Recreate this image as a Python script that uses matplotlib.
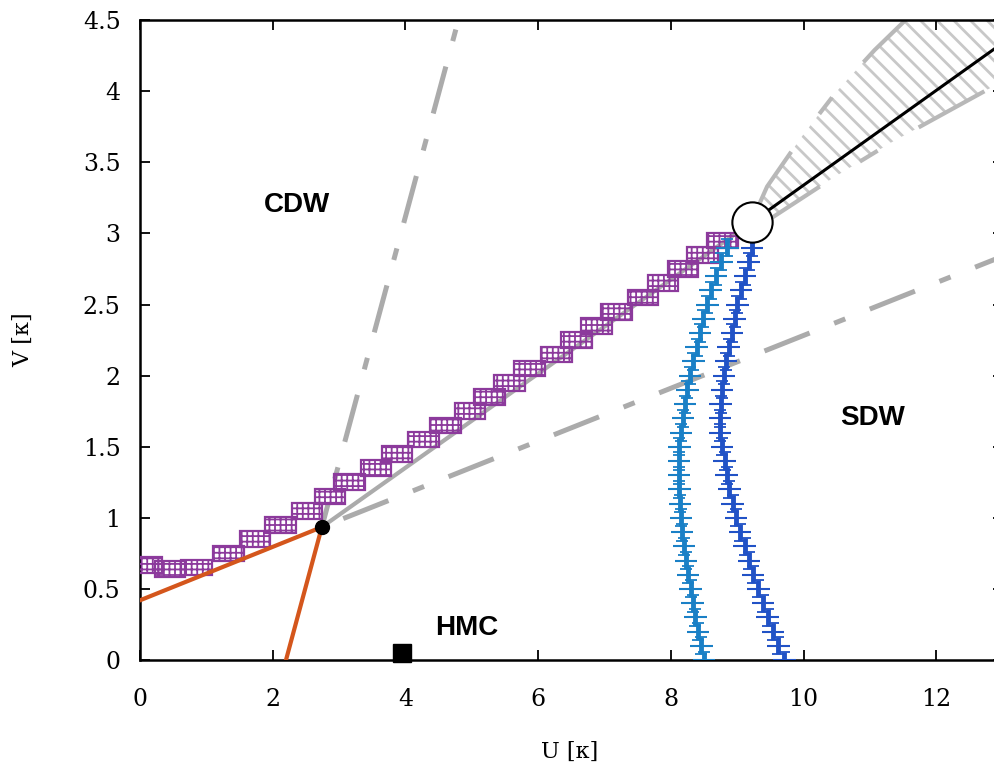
import numpy as np
import matplotlib
matplotlib.use("Agg")
import matplotlib.pyplot as plt
from matplotlib.patches import Rectangle, Polygon

# --- Data ---
# purple boxes (CDW boundary), centre and half-widths
cdw_u = [0.10, 0.45, 0.85, 1.33, 1.73, 2.12, 2.52, 2.86, 3.16, 3.56, 3.87, 4.27, 4.60,
         4.97, 5.27, 5.57, 5.87, 6.28, 6.58, 6.88, 7.18, 7.58, 7.88, 8.18, 8.48, 8.78]
cdw_v = [0.67, 0.64, 0.65, 0.75, 0.85, 0.95, 1.05, 1.15, 1.25, 1.35, 1.45, 1.55, 1.65,
         1.75, 1.85, 1.95, 2.05, 2.15, 2.25, 2.35, 2.45, 2.55, 2.65, 2.75, 2.85, 2.95]
cdw_du = 0.23
cdw_dv = 0.055

# two SDW boundaries (blue error bars)
sdw_v = [0.0, 0.1, 0.2, 0.3, 0.4, 0.5, 0.6, 0.7, 0.8, 0.9, 1.0, 1.1, 1.2, 1.3, 1.4,
         1.5, 1.6, 1.7, 1.8, 1.9, 2.0, 2.1, 2.2, 2.3, 2.4, 2.5, 2.6, 2.7, 2.8, 2.9]
sdw1_u = [8.50, 8.46, 8.41, 8.37, 8.33, 8.30, 8.26, 8.23, 8.20, 8.17, 8.15, 8.14, 8.13, 8.12, 8.12,
          8.13, 8.15, 8.18, 8.21, 8.25, 8.29, 8.34, 8.39, 8.44, 8.49, 8.55, 8.60, 8.68, 8.76, 8.85]
sdw2_u = [9.71, 9.62, 9.54, 9.46, 9.39, 9.32, 9.24, 9.18, 9.11, 9.04, 8.98, 8.93, 8.88, 8.84, 8.81,
          8.77, 8.74, 8.74, 8.75, 8.77, 8.80, 8.83, 8.87, 8.92, 8.96, 9.00, 9.06, 9.12, 9.17, 9.22]
sdw_du = 0.17
sdw_dv = 0.06

# special points
tricrit = (2.74, 0.935)
crit = (9.22, 3.08)
hmc_pt = (3.95, 0.05)

# straight guide lines
orange1_u, orange1_v = [0.0, 2.74], [0.42, 0.935]
orange2_u, orange2_v = [2.20, 2.74], [0.0, 0.935]
up_dd_u, up_dd_v = [2.74, 4.78], [0.935, 4.47]
low_dd_u, low_dd_v = [2.74, 13.0], [0.935, 2.84]
mid_u, mid_v = [2.74, 9.22], [0.935, 3.08]
crit_line_u, crit_line_v = [9.22, 13.0], [3.08, 4.34]

# cone of uncertainty around the critical line
cone_up_u = [9.25, 9.45, 9.97, 10.5, 11.07, 11.6, 13.0]
cone_up_v = [3.12, 3.33, 3.68, 4.00, 4.29, 4.53, 4.80]
cone_lo_u = [9.30, 9.52, 10.44, 11.32, 12.88, 13.0]
cone_lo_v = [3.04, 3.11, 3.39, 3.64, 4.04, 4.07]

xticks = [0, 2, 4, 6, 8, 10, 12]
yticks = [0, 0.5, 1, 1.5, 2, 2.5, 3, 3.5, 4, 4.5]
ytick_labels = ['0', '0.5', '1', '1.5', '2', '2.5', '3', '3.5', '4', '4.5']

# --- Style ---
plt.rcParams['font.family'] = ['DejaVu Serif']
plt.rcParams['lines.scale_dashes'] = False
plt.rcParams['hatch.linewidth'] = 2.0

gray = '#ababab'
purple = '#8c3a9c'
blue1 = '#1a80c6'
blue2 = '#2152c6'
orange = '#d4561c'

fig = plt.figure(figsize=(9.95, 7.69), dpi=100)
ax = fig.add_axes([0.1407, 0.1417, 0.867, 0.832])

# hatched cone
cone_pts = list(zip(cone_up_u, cone_up_v)) + list(zip(cone_lo_u, cone_lo_v))[::-1]
cone = Polygon(cone_pts, closed=True, fill=False, hatch='\\\\', edgecolor='#c8c8c8', lw=0, zorder=1)
ax.add_patch(cone)
dash_cone = (0, (54, 34, 15, 34))
ax.plot(cone_up_u, cone_up_v, color='#b8b8b8', lw=3, linestyle=dash_cone, zorder=2)
ax.plot(cone_lo_u, cone_lo_v, color='#b8b8b8', lw=3, linestyle=dash_cone, zorder=2)

# gray guide lines
ax.plot(mid_u, mid_v, color=gray, lw=3, zorder=2)
ax.plot(up_dd_u, up_dd_v, color=gray, lw=3.6, linestyle=(18, (35, 19, 8.6, 19)), zorder=2)
ax.plot(low_dd_u, low_dd_v, color=gray, lw=3.6, linestyle=(65, (35, 19, 8.6, 19)), zorder=2)

# CDW boxes
for u, v in zip(cdw_u, cdw_v):
    box = Rectangle((u - cdw_du, v - cdw_dv), 2 * cdw_du, 2 * cdw_dv, fill=False,
                    hatch='+++', edgecolor=purple, lw=1.6, zorder=3)
    if hasattr(box, 'set_hatch_linewidth'):
        box.set_hatch_linewidth(1.3)
    ax.add_patch(box)

# SDW error bars: horizontal bars plus thick vertical bars
for su, col in [(sdw1_u, blue1), (sdw2_u, blue2)]:
    ax.errorbar(su, sdw_v, xerr=sdw_du, fmt='none', ecolor=col, elinewidth=1.5,
                capsize=0, zorder=3)
    ax.errorbar(su, sdw_v, yerr=sdw_dv, fmt='none', ecolor=col, elinewidth=3.5,
                capsize=4, capthick=1.3, zorder=3)

# orange lines and points
ax.plot(orange1_u, orange1_v, color=orange, lw=3, zorder=4)
ax.plot(orange2_u, orange2_v, color=orange, lw=3, zorder=4)
ax.plot(*tricrit, 'o', color='black', markersize=10, zorder=5)
ax.plot(crit_line_u, crit_line_v, color='black', lw=2.2, zorder=4)
ax.plot(*crit, 'o', markerfacecolor='white', markeredgecolor='black', markeredgewidth=1.5,
        markersize=29, zorder=6)
ax.errorbar([hmc_pt[0]], [hmc_pt[1]], yerr=0.04, fmt='s', color='black', markersize=13,
            elinewidth=1.2, capsize=0, clip_on=False, zorder=6)

# phase labels
lab = dict(fontsize=20, fontweight='bold', family='Liberation Sans', ha='center', va='center')
ax.text(2.36, 3.2, 'CDW', **lab)
ax.text(11.04, 1.70, 'SDW', **lab)
ax.text(4.93, 0.225, 'HMC', **lab)

# axes
ax.set_xlim(0, 13)
ax.set_ylim(0, 4.5)
ax.set_xticks(xticks)
ax.set_yticks(yticks)
ax.set_yticklabels(ytick_labels)
ax.tick_params(direction='in', length=7, width=1.3, labelsize=17, top=True, right=True)
ax.tick_params(axis='x', pad=20)
ax.tick_params(axis='y', pad=14)
for s in ax.spines.values():
    s.set_linewidth(1.8)
ax.set_xlabel('U [κ]', fontsize=16, va='center')
ax.set_ylabel('V [κ]', fontsize=16, va='center')
ax.xaxis.set_label_coords(0.498, -0.144)
ax.yaxis.set_label_coords(-0.136, 0.5)

plt.savefig('out.png', dpi=100)
